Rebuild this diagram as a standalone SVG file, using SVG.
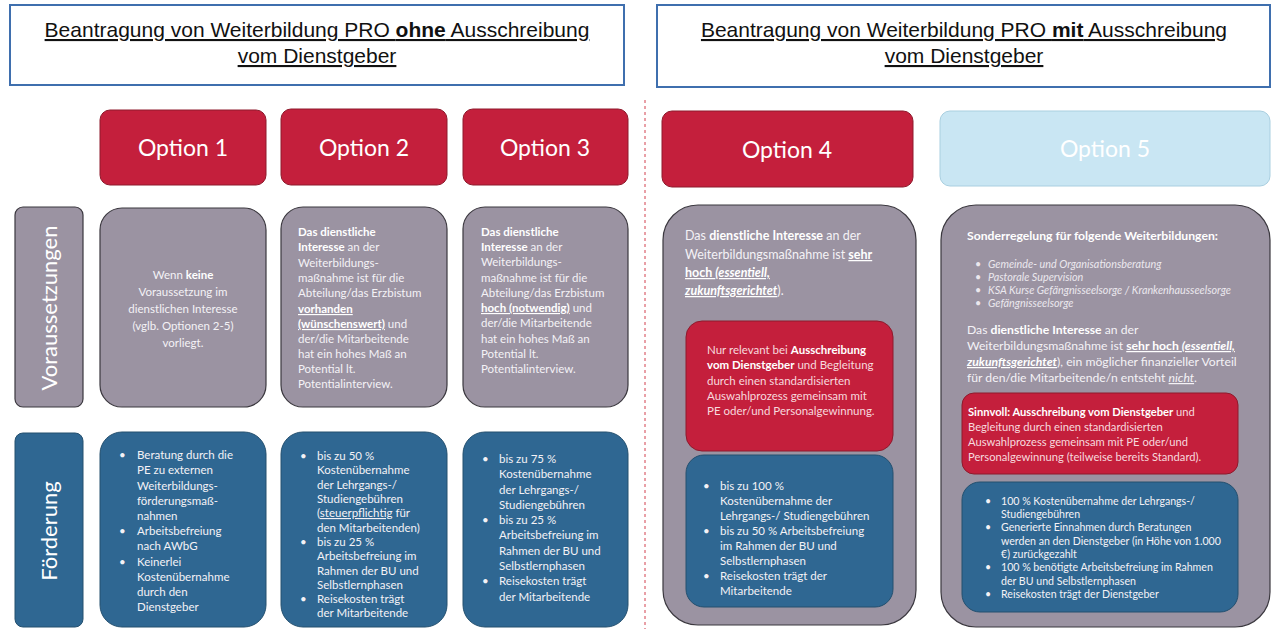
<svg xmlns="http://www.w3.org/2000/svg" width="1275" height="629" viewBox="0 0 1275 629">
<style>
.title{font-family:"Liberation Sans",Arial,sans-serif;font-size:21px;fill:#111;text-decoration:underline;text-anchor:middle}
.tbox{fill:#fff;stroke:#3f6fae;stroke-width:2}
.hdr{fill:#c41f3c;stroke:#8e1a2c;stroke-width:1}
.hdr5{fill:#c9e6f3;stroke:#a9cfe0;stroke-width:1}
.htxt{font-family:Lato,"Open Sans",sans-serif;font-size:23px;fill:#fff;text-anchor:middle}
.grey{fill:#9b93a2;stroke:#3b383f;stroke-width:1.2}
.blue{fill:#2f6792;stroke:#24506f;stroke-width:1}
.red{fill:#c41f3c;stroke:#8e1a2c;stroke-width:1}
.lbl{font-family:Lato,"Open Sans",sans-serif;font-size:22px;fill:#fff;text-anchor:middle}
.t{font-family:Lato,"Open Sans",sans-serif;font-size:11.5px;fill:#f4f2f6}
.tr{font-family:Lato,"Open Sans",sans-serif;font-size:11.5px;fill:#f7d9de}
.tc{text-anchor:middle}
.b{font-weight:bold;fill:#fff}
.u{text-decoration:underline}
.i{font-style:italic}
</style>

<g id="title-left">
<rect class="tbox" x="10" y="5" width="614" height="80"/>
<text class="title" x="317" y="37">Beantragung von Weiterbildung PRO <tspan font-weight="bold">ohne</tspan> Ausschreibung</text>
<text class="title" x="317" y="63">vom Dienstgeber</text>
</g>
<g id="title-right">
<rect class="tbox" x="657" y="5" width="613" height="82"/>
<text class="title" x="964" y="37">Beantragung von Weiterbildung PRO <tspan font-weight="bold">mit</tspan> Ausschreibung</text>
<text class="title" x="964" y="63">vom Dienstgeber</text>
</g>

<g id="connectors">
<line x1="645" y1="100" x2="645" y2="629" stroke="#d2404f" stroke-width="1" stroke-dasharray="3,3"/>
</g>

<g id="option1-header"><rect class="hdr" x="100" y="110" width="166" height="75" rx="10"/><text class="htxt" x="183" y="156">Option 1</text></g>
<g id="option2-header"><rect class="hdr" x="281" y="109" width="166" height="76" rx="10"/><text class="htxt" x="364" y="156">Option 2</text></g>
<g id="option3-header"><rect class="hdr" x="463" y="109" width="165" height="76" rx="10"/><text class="htxt" x="545" y="156">Option 3</text></g>
<g id="option4-header"><rect class="hdr" x="662" y="111" width="251" height="76" rx="10"/><text class="htxt" x="787" y="158">Option 4</text></g>
<g id="option5-header"><rect class="hdr5" x="940" y="111" width="330" height="75" rx="10"/><text class="htxt" x="1105" y="157">Option 5</text></g>

<g id="label-voraussetzungen"><rect class="grey" x="15" y="207" width="68" height="200" rx="8"/><text class="lbl" transform="translate(57,308) rotate(-90)">Voraussetzungen</text></g>
<g id="label-foerderung"><rect class="blue" x="15" y="433" width="68" height="194" rx="8"/><text class="lbl" transform="translate(57,531) rotate(-90)">Förderung</text></g>

<g id="option1-voraussetzung">
<rect class="grey" x="100" y="208" width="166" height="199" rx="22"/>
<text class="t tc" x="183" y="279"><tspan>Wenn </tspan><tspan class="b">keine</tspan></text>
<text class="t tc" x="183" y="296">Voraussetzung im</text>
<text class="t tc" x="183" y="313">dienstlichen Interesse</text>
<text class="t tc" x="183" y="330">(vglb. Optionen 2-5)</text>
<text class="t tc" x="183" y="347">vorliegt.</text>
</g>

<g id="option2-voraussetzung">
<rect class="grey" x="281" y="207" width="166" height="200" rx="22"/>
<text class="t" x="298" y="236"><tspan class="b">Das dienstliche</tspan></text>
<text class="t" x="298" y="251"><tspan class="b">Interesse</tspan> an der</text>
<text class="t" x="298" y="267">Weiterbildungs-</text>
<text class="t" x="298" y="282">maßnahme ist für die</text>
<text class="t" x="298" y="297">Abteilung/das Erzbistum</text>
<text class="t" x="298" y="313"><tspan class="b u">vorhanden</tspan></text>
<text class="t" x="298" y="328"><tspan class="b u">(wünschenswert)</tspan> und</text>
<text class="t" x="298" y="343">der/die Mitarbeitende</text>
<text class="t" x="298" y="358">hat ein hohes Maß an</text>
<text class="t" x="298" y="373">Potential lt.</text>
<text class="t" x="298" y="388">Potentialinterview.</text>
</g>

<g id="option3-voraussetzung">
<rect class="grey" x="463" y="207" width="165" height="200" rx="22"/>
<text class="t" x="481" y="236"><tspan class="b">Das dienstliche</tspan></text>
<text class="t" x="481" y="251"><tspan class="b">Interesse</tspan> an der</text>
<text class="t" x="481" y="266">Weiterbildungs-</text>
<text class="t" x="481" y="282">maßnahme ist für die</text>
<text class="t" x="481" y="297">Abteilung/das Erzbistum</text>
<text class="t" x="481" y="312"><tspan class="b u">hoch (notwendig)</tspan> und</text>
<text class="t" x="481" y="327">der/die Mitarbeitende</text>
<text class="t" x="481" y="343">hat ein hohes Maß an</text>
<text class="t" x="481" y="358">Potential lt.</text>
<text class="t" x="481" y="373">Potentialinterview.</text>
</g>

<g id="option1-foerderung">
<rect class="blue" x="100" y="432" width="166" height="195" rx="22"/>
<g class="t">
<text x="119" y="459">•</text><text x="137" y="459">Beratung durch die</text>
<text x="137" y="474">PE zu externen</text>
<text x="137" y="490">Weiterbildungs-</text>
<text x="137" y="505">förderungsmaß-</text>
<text x="137" y="520">nahmen</text>
<text x="119" y="535">•</text><text x="137" y="535">Arbeitsbefreiung</text>
<text x="137" y="550">nach AWbG</text>
<text x="119" y="566">•</text><text x="137" y="566">Keinerlei</text>
<text x="137" y="581">Kostenübernahme</text>
<text x="137" y="596">durch den</text>
<text x="137" y="611">Dienstgeber</text>
</g>
</g>

<g id="option2-foerderung">
<rect class="blue" x="281" y="432" width="166" height="195" rx="22"/>
<g class="t">
<text x="300" y="460">•</text><text x="317" y="460">bis zu 50 %</text>
<text x="317" y="474">Kostenübernahme</text>
<text x="317" y="489">der Lehrgangs-/</text>
<text x="317" y="503">Studiengebühren</text>
<text x="317" y="517">(<tspan class="u">steuerpflichtig</tspan> für</text>
<text x="317" y="532">den Mitarbeitenden)</text>
<text x="300" y="546">•</text><text x="317" y="546">bis zu 25 %</text>
<text x="317" y="560">Arbeitsbefreiung im</text>
<text x="317" y="575">Rahmen der BU und</text>
<text x="317" y="589">Selbstlernphasen</text>
<text x="300" y="603">•</text><text x="317" y="603">Reisekosten trägt</text>
<text x="317" y="617">der Mitarbeitende</text>
</g>
</g>

<g id="option3-foerderung">
<rect class="blue" x="463" y="432" width="165" height="195" rx="22"/>
<g class="t">
<text x="482" y="463">•</text><text x="499" y="463">bis zu 75 %</text>
<text x="499" y="478">Kostenübernahme</text>
<text x="499" y="494">der Lehrgangs-/</text>
<text x="499" y="509">Studiengebühren</text>
<text x="482" y="524">•</text><text x="499" y="524">bis zu 25 %</text>
<text x="499" y="539">Arbeitsbefreiung im</text>
<text x="499" y="555">Rahmen der BU und</text>
<text x="499" y="570">Selbstlernphasen</text>
<text x="482" y="585">•</text><text x="499" y="585">Reisekosten trägt</text>
<text x="499" y="601">der Mitarbeitende</text>
</g>
</g>

<g id="option4">
<rect class="grey" x="663" y="205" width="253" height="420" rx="35"/>
<g font-family="Lato,'Open Sans',sans-serif" font-size="12.5" fill="#f4f2f6">
<text x="685" y="240">Das <tspan class="b">dienstliche Interesse</tspan> an der</text>
<text x="685" y="259">Weiterbildungsmaßnahme ist <tspan class="b u">sehr</tspan></text>
<text x="685" y="277"><tspan class="b u">hoch <tspan class="i">(essentiell,</tspan></tspan></text>
<text x="685" y="295"><tspan class="b u i">zukunftsgerichtet</tspan>).</text>
</g>
</g>
<g id="option4-hinweis">
<rect class="red" x="686" y="321" width="207" height="130" rx="16"/>
<g class="tr">
<text x="707" y="354">Nur relevant bei <tspan class="b">Ausschreibung</tspan></text>
<text x="707" y="369"><tspan class="b">vom Dienstgeber</tspan> und Begleitung</text>
<text x="707" y="385">durch einen standardisierten</text>
<text x="707" y="400">Auswahlprozess gemeinsam mit</text>
<text x="707" y="415">PE oder/und Personalgewinnung.</text>
</g>
</g>
<g id="option4-foerderung">
<rect class="blue" x="686" y="455" width="207" height="152" rx="18"/>
<g class="t">
<text x="703" y="490">•</text><text x="720" y="490">bis zu 100 %</text>
<text x="720" y="505">Kostenübernahme der</text>
<text x="720" y="520">Lehrgangs-/ Studiengebühren</text>
<text x="703" y="535">•</text><text x="720" y="535">bis zu 50 % Arbeitsbefreiung</text>
<text x="720" y="550">im Rahmen der BU und</text>
<text x="720" y="565">Selbstlernphasen</text>
<text x="703" y="580">•</text><text x="720" y="580">Reisekosten trägt der</text>
<text x="720" y="595">Mitarbeitende</text>
</g>
</g>

<g id="option5">
<rect class="grey" x="941" y="205" width="329" height="422" rx="35"/>
<g font-family="Lato,'Open Sans',sans-serif" font-size="12.2" fill="#f4f2f6">
<text x="967" y="240" class="b">Sonderregelung für folgende Weiterbildungen:</text>
</g>
<g font-family="Lato,'Open Sans',sans-serif" font-size="10.8" fill="#ebe8ee" font-style="italic">
<text x="975" y="268">•</text><text x="988" y="268">Gemeinde- und Organisationsberatung</text>
<text x="975" y="281">•</text><text x="988" y="281">Pastorale Supervision</text>
<text x="975" y="294">•</text><text x="988" y="294">KSA Kurse Gefängnisseelsorge / Krankenhausseelsorge</text>
<text x="975" y="307">•</text><text x="988" y="307">Gefängnisseelsorge</text>
</g>
<g font-family="Lato,'Open Sans',sans-serif" font-size="12.2" fill="#f4f2f6">
<text x="967" y="334">Das <tspan class="b">dienstliche Interesse</tspan> an der</text>
<text x="967" y="350">Weiterbildungsmaßnahme ist <tspan class="b u">sehr hoch <tspan class="i">(essentiell,</tspan></tspan></text>
<text x="967" y="366"><tspan class="b u i">zukunftsgerichtet</tspan>), ein möglicher finanzieller Vorteil</text>
<text x="967" y="382">für den/die Mitarbeitende/n entsteht <tspan class="u i">nicht</tspan>.</text>
</g>
</g>
<g id="option5-hinweis">
<rect class="red" x="962" y="393" width="276" height="81" rx="12"/>
<g font-family="Lato,'Open Sans',sans-serif" font-size="11.2" fill="#f7d9de">
<text x="968" y="416"><tspan class="b">Sinnvoll: Ausschreibung vom Dienstgeber</tspan> und</text>
<text x="968" y="431">Begleitung durch einen standardisierten</text>
<text x="968" y="446">Auswahlprozess gemeinsam mit PE oder/und</text>
<text x="968" y="461">Personalgewinnung (teilweise bereits Standard).</text>
</g>
</g>
<g id="option5-foerderung">
<rect class="blue" x="962" y="482" width="276" height="130" rx="18"/>
<g font-family="Lato,'Open Sans',sans-serif" font-size="10.6" fill="#f4f2f6">
<text x="985" y="505">•</text><text x="1001" y="505">100 % Kostenübernahme der Lehrgangs-/</text>
<text x="1001" y="518">Studiengebühren</text>
<text x="985" y="531">•</text><text x="1001" y="531">Generierte Einnahmen durch Beratungen</text>
<text x="1001" y="545">werden an den Dienstgeber  (in Höhe von 1.000</text>
<text x="1001" y="558">€) zurückgezahlt</text>
<text x="985" y="571">•</text><text x="1001" y="571">100 % benötigte Arbeitsbefreiung im Rahmen</text>
<text x="1001" y="585">der BU und Selbstlernphasen</text>
<text x="985" y="598">•</text><text x="1001" y="598">Reisekosten trägt der Dienstgeber</text>
</g>
</g>
</svg>
